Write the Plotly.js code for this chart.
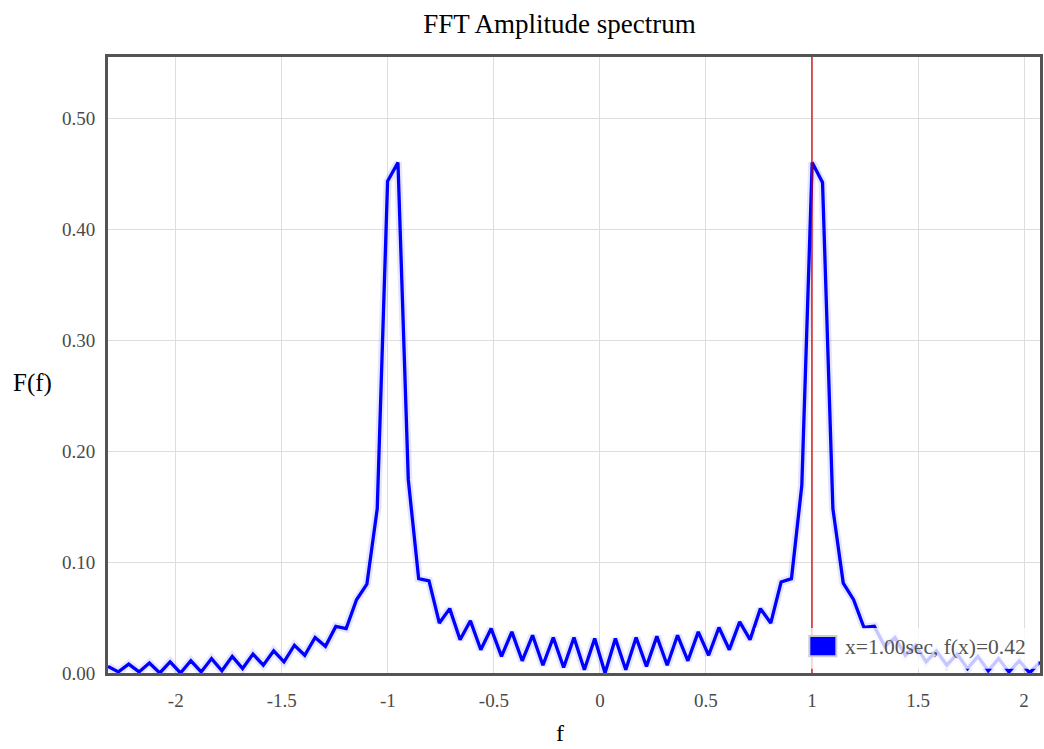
<!DOCTYPE html>
<html>
<head>
<meta charset="utf-8">
<script src="https://cdn.plot.ly/plotly-3.0.1.min.js"></script>
<style>
  html, body { margin: 0; padding: 0; background: #ffffff; }
  #chart { width: 1044px; height: 749px; }
</style>
</head>
<body>
<div id="chart"></div>
<script>
// Frequency bins (f)
const freq = [
  -2.3193, -2.2705, -2.2217, -2.1729, -2.1240, -2.0752, -2.0264, -1.9775, -1.9287, -1.8799,
  -1.8311, -1.7822, -1.7334, -1.6846, -1.6357, -1.5869, -1.5381, -1.4893, -1.4404, -1.3916,
  -1.3428, -1.2939, -1.2451, -1.1963, -1.1475, -1.0986, -1.0498, -1.0010, -0.9521, -0.9033,
  -0.8545, -0.8057, -0.7568, -0.7080, -0.6592, -0.6104, -0.5615, -0.5127, -0.4639, -0.4150,
  -0.3662, -0.3174, -0.2686, -0.2197, -0.1709, -0.1221, -0.0732, -0.0244, 0.0244, 0.0732,
  0.1221, 0.1709, 0.2197, 0.2686, 0.3174, 0.3662, 0.4150, 0.4639, 0.5127, 0.5615,
  0.6104, 0.6592, 0.7080, 0.7568, 0.8057, 0.8545, 0.9033, 0.9521, 1.0010, 1.0498,
  1.0986, 1.1475, 1.1963, 1.2451, 1.2939, 1.3428, 1.3916, 1.4404, 1.4893, 1.5381,
  1.5869, 1.6357, 1.6846, 1.7334, 1.7822, 1.8311, 1.8799, 1.9287, 1.9775, 2.0264,
  2.0752
];
// Amplitude F(f)
const amplitude = [
  0.006, 0.001, 0.008, 0.001, 0.009, 0.000, 0.010, 0.000, 0.011, 0.001,
  0.013, 0.002, 0.015, 0.004, 0.017, 0.007, 0.020, 0.010, 0.025, 0.016,
  0.032, 0.024, 0.042, 0.040, 0.066, 0.080, 0.148, 0.443, 0.460, 0.174,
  0.085, 0.083, 0.045, 0.058, 0.030, 0.047, 0.021, 0.040, 0.015, 0.037,
  0.011, 0.034, 0.007, 0.032, 0.005, 0.032, 0.003, 0.031, 0.000, 0.031,
  0.003, 0.032, 0.006, 0.033, 0.007, 0.034, 0.011, 0.037, 0.016, 0.041,
  0.021, 0.046, 0.030, 0.058, 0.045, 0.082, 0.085, 0.169, 0.460, 0.442,
  0.148, 0.081, 0.066, 0.041, 0.042, 0.024, 0.032, 0.016, 0.025, 0.010,
  0.020, 0.007, 0.017, 0.004, 0.015, 0.002, 0.013, 0.001, 0.011, 0.000,
  0.010
];
// Cursor readout
const cursorX = 1.00;
const cursorY = 0.42;
// Tick labels
const xTickVals = [-2, -1.5, -1, -0.5, 0, 0.5, 1, 1.5, 2];
const xTickText = ["-2", "-1.5", "-1", "-0.5", "0", "0.5", "1", "1.5", "2"];
const yTickVals = [0, 0.1, 0.2, 0.3, 0.4, 0.5];
const yTickText = ["0.00", "0.10", "0.20", "0.30", "0.40", "0.50"];

const serif = '"Liberation Serif", "Times New Roman", serif';

const traces = [
  {
    x: freq, y: amplitude, type: 'scatter', mode: 'lines',
    line: { color: 'rgba(0,0,255,0.10)', width: 8 },
    hoverinfo: 'skip', showlegend: false
  },
  {
    x: freq, y: amplitude, type: 'scatter', mode: 'lines',
    line: { color: '#0000ff', width: 3.3 },
    showlegend: false
  }
];

const legendText = 'x=' + cursorX.toFixed(2) + 'sec, f(x)=' + cursorY.toFixed(2);

const layout = {
  width: 1044, height: 749,
  paper_bgcolor: '#ffffff', plot_bgcolor: '#ffffff',
  margin: { l: 108, r: 4, t: 57, b: 76 },
  font: { family: serif, color: '#545454', size: 21 },
  showlegend: false,
  title: {
    text: 'FFT Amplitude spectrum',
    font: { family: serif, size: 27, color: '#000000' },
    x: 0.4845, xref: 'paper', xanchor: 'center',
    y: 0.968, yref: 'container', yanchor: 'middle'
  },
  xaxis: {
    range: [freq[0], freq[freq.length - 1]],
    tickvals: xTickVals, ticktext: xTickText,
    showgrid: true, gridcolor: '#dedede', gridwidth: 1,
    zeroline: false,
    showline: true, mirror: true, linecolor: '#545454', linewidth: 3,
    ticks: '', ticklabelstandoff: 8,
    tickfont: { family: serif, size: 19, color: '#4a4a4a' }
  },
  yaxis: {
    range: [0, 0.555],
    tickvals: yTickVals, ticktext: yTickText,
    showgrid: true, gridcolor: '#dedede', gridwidth: 1,
    zeroline: false,
    showline: true, mirror: true, linecolor: '#545454', linewidth: 3,
    ticks: '', ticklabelstandoff: 6,
    tickfont: { family: serif, size: 19, color: '#4a4a4a' }
  },
  shapes: [
    { type: 'line', xref: 'x', yref: 'paper', x0: cursorX, x1: cursorX, y0: 0, y1: 1,
      line: { color: '#cc0000', width: 1.3 }, layer: 'above' },
    { type: 'rect', xref: 'paper', yref: 'paper', x0: 0.6945, x1: 0.9985, y0: 0.007, y1: 0.073,
      fillcolor: 'rgba(255,255,255,0.78)', line: { width: 0 }, layer: 'above' },
    { type: 'rect', xref: 'paper', yref: 'paper', x0: 0.7525, x1: 0.7815, y0: 0.027, y1: 0.060,
      fillcolor: '#0000ff', line: { color: '#cccccc', width: 2 }, layer: 'above' }
  ],
  annotations: [
    { text: legendText, xref: 'paper', yref: 'paper', x: 0.7885, y: 0.0415,
      xanchor: 'left', yanchor: 'middle', showarrow: false,
      font: { family: serif, size: 21.5, color: '#545454' } },
    { text: 'F(f)', xref: 'paper', yref: 'paper', x: -0.0815, y: 0.471,
      xanchor: 'center', yanchor: 'middle', showarrow: false,
      font: { family: serif, size: 25, color: '#000000' } },
    { text: 'f', xref: 'paper', yref: 'paper', x: 0.4855, y: -0.097,
      xanchor: 'center', yanchor: 'middle', showarrow: false,
      font: { family: serif, size: 24, color: '#000000' } }
  ]
};

Plotly.newPlot('chart', traces, layout, { displayModeBar: false, staticPlot: true });
</script>
</body>
</html>
